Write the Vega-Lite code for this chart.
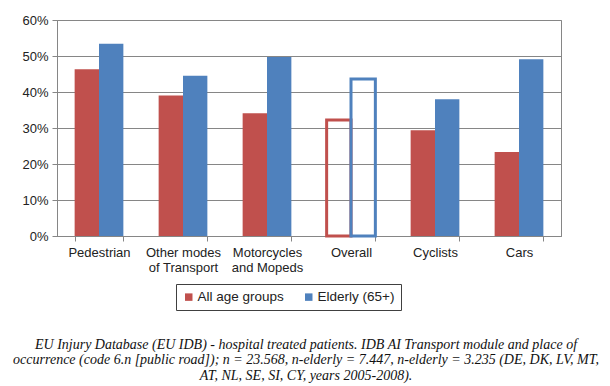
{
  "$schema": "https://vega.github.io/schema/vega-lite/v6.json",
  "width": 504,
  "height": 216,
  "autosize": "none",
  "padding": {"left": 57, "top": 20, "right": 49, "bottom": 150},
  "background": "white",
  "config": {
    "font": "Liberation Sans",
    "view": {"stroke": "#868686", "strokeWidth": 1},
    "axis": {
      "labelFont": "Liberation Sans",
      "labelFontSize": 13,
      "labelColor": "#222222",
      "domainColor": "#868686",
      "tickColor": "#868686",
      "gridColor": "#868686",
      "gridOpacity": 1,
      "title": null
    }
  },
  "data": {
    "values": [
      {"category": "Pedestrian", "group": "All age groups", "value": 0.463},
      {"category": "Pedestrian", "group": "Elderly (65+)", "value": 0.534},
      {"category": "Other modes of Transport", "group": "All age groups", "value": 0.39},
      {"category": "Other modes of Transport", "group": "Elderly (65+)", "value": 0.445},
      {"category": "Motorcycles and Mopeds", "group": "All age groups", "value": 0.341},
      {"category": "Motorcycles and Mopeds", "group": "Elderly (65+)", "value": 0.497},
      {"category": "Overall", "group": "All age groups", "value": 0.322},
      {"category": "Overall", "group": "Elderly (65+)", "value": 0.436},
      {"category": "Cyclists", "group": "All age groups", "value": 0.294},
      {"category": "Cyclists", "group": "Elderly (65+)", "value": 0.38},
      {"category": "Cars", "group": "All age groups", "value": 0.233},
      {"category": "Cars", "group": "Elderly (65+)", "value": 0.491}
    ]
  },
  "title": {
    "text": [
      "EU Injury Database (EU IDB) - hospital treated patients. IDB AI Transport module and place of",
      "occurrence (code 6.n [public road]); n = 23.568, n-elderly = 7.447, n-elderly = 3.235 (DE, DK, LV, MT,",
      "AT, NL, SE, SI, CY, years 2005-2008)."
    ],
    "orient": "bottom",
    "anchor": "middle",
    "font": "Liberation Serif",
    "fontStyle": "italic",
    "fontWeight": "normal",
    "fontSize": 14,
    "lineHeight": 15.5,
    "color": "#111111",
    "offset": 27,
    "dx": -3
  },
  "mark": {"type": "bar"},
  "encoding": {
    "x": {
      "field": "category",
      "type": "nominal",
      "sort": null,
      "scale": {"paddingInner": 0.42, "paddingOuter": 0.21},
      "axis": {
        "labelAngle": 0,
        "tickBand": "extent",
        "tickSize": 5,
        "labelPadding": 5,
        "labelLineHeight": 15,
        "labelExpr": "datum.value == 'Other modes of Transport' ? ['Other modes', 'of Transport'] : datum.value == 'Motorcycles and Mopeds' ? ['Motorcycles', 'and Mopeds'] : datum.value"
      }
    },
    "xOffset": {"field": "group", "type": "nominal", "scale": {"paddingInner": 0, "paddingOuter": 0}},
    "y": {
      "field": "value",
      "type": "quantitative",
      "scale": {"domain": [0, 0.6], "nice": false},
      "axis": {"format": "%", "values": [0, 0.1, 0.2, 0.3, 0.4, 0.5, 0.6], "tickSize": 5, "labelPadding": 4}
    },
    "fill": {
      "field": "group",
      "type": "nominal",
      "scale": {"domain": ["All age groups", "Elderly (65+)"], "range": ["#C0504D", "#4F81BD"]},
      "legend": {
        "title": null,
        "orient": "none",
        "legendX": 119,
        "legendY": 264,
        "direction": "horizontal",
        "symbolType": "square",
        "symbolSize": 56,
        "symbolStrokeWidth": 0,
        "labelFontSize": 13.5,
        "labelFont": "Liberation Sans",
        "labelColor": "#222222",
        "labelOffset": 2,
        "columnPadding": 18,
        "strokeColor": "#404040",
        "padding": 6
      }
    },
    "stroke": {
      "field": "group",
      "type": "nominal",
      "scale": {"domain": ["All age groups", "Elderly (65+)"], "range": ["#C0504D", "#4F81BD"]},
      "legend": null
    },
    "fillOpacity": {"condition": {"test": "datum.category === 'Overall'", "value": 0}, "value": 1},
    "strokeWidth": {"condition": {"test": "datum.category === 'Overall'", "value": 3}, "value": 0}
  }
}
